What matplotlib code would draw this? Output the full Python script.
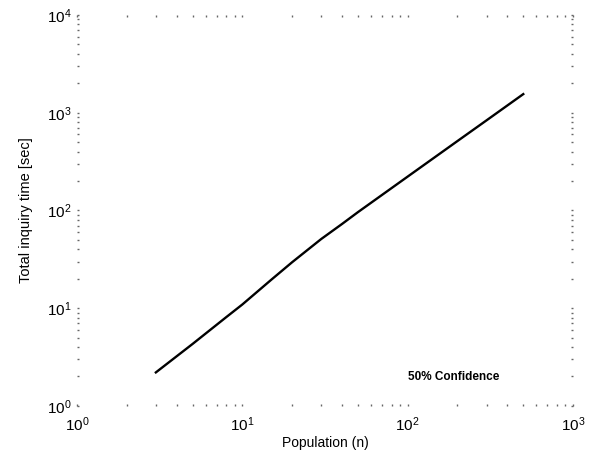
import matplotlib
matplotlib.use("Agg")
import matplotlib.pyplot as plt

plt.rcParams['font.family'] = ['Liberation Sans', 'DejaVu Sans']
plt.rcParams['mathtext.default'] = 'regular'

# population vs total inquiry time
population = [3, 5, 8, 10, 15, 20, 30, 40, 50, 100, 200, 300, 500]
inquiry_time = [2.2, 4.3, 8.1, 10.9, 19.6, 29.5, 51, 72.5, 96, 222, 513, 836, 1550]

fig = plt.figure(figsize=(5.92, 4.54), dpi=100)
ax = fig.add_axes([0.130, 0.106, 0.838, 0.861])

ax.plot(population, inquiry_time, color='black', linewidth=1.7)
ax.set_xscale('log')
ax.set_yscale('log')
ax.set_xlim(1, 1000)
ax.set_ylim(1, 10000)

for s in ax.spines.values():
    s.set_visible(False)
ax.tick_params(which='both', direction='in', top=True, right=True,
               length=1.5, width=1, color='#666666', labelsize=11)
ax.tick_params(axis='x', pad=7)
ax.tick_params(axis='y', pad=4)

ax.set_xlabel('Population (n)', fontsize=10, labelpad=1)
ax.set_ylabel('Total inquiry time [sec]', fontsize=10.5, labelpad=10)
ax.text(0.76, 0.074, '50% Confidence', transform=ax.transAxes,
        ha='center', va='center', fontsize=8.5, fontweight='bold')

fig.savefig('out.png', dpi=100)
